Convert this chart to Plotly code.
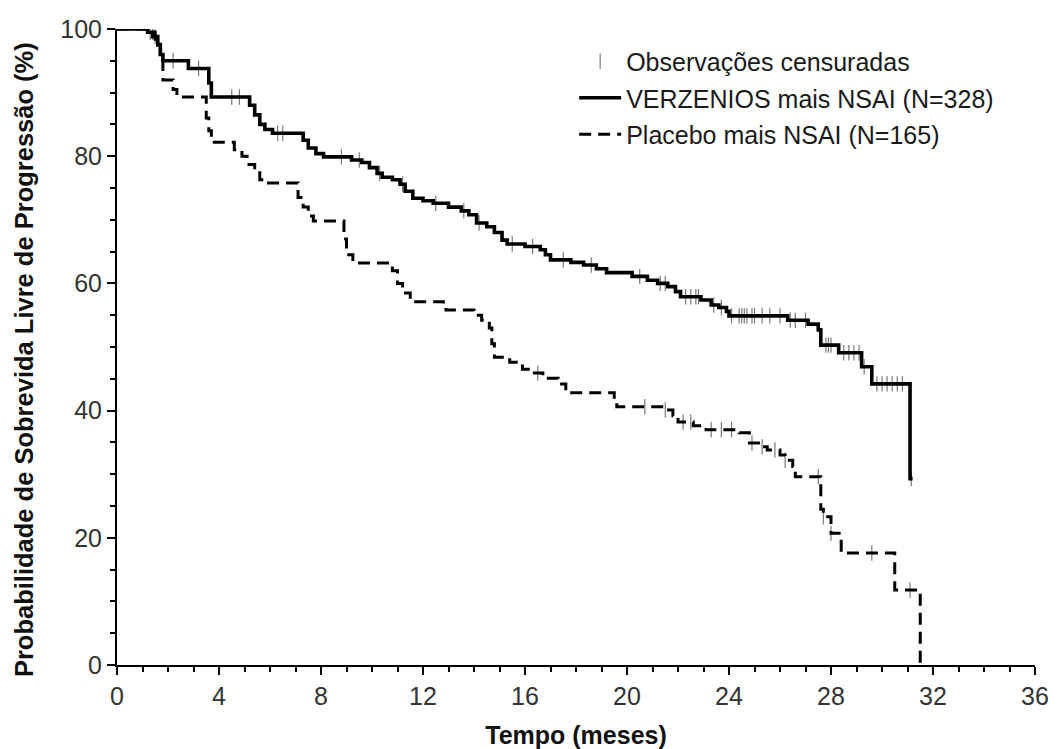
import plotly.graph_objects as go

# Kaplan-Meier steps (months, % free of progression)
verz_time = [0, 1.2, 1.4, 1.6, 1.7, 1.8, 2.8, 3.6, 3.7, 5.2, 5.4, 5.6, 5.8, 6.1,
             7.3, 7.5, 7.8, 8.1, 9.2, 9.6, 9.9, 10.2, 10.4, 10.8, 11.1, 11.3, 11.6,
             12.0, 12.4, 13.0, 13.5, 13.8, 14.1, 14.5, 14.8, 15.1, 15.3, 16.0, 16.6,
             16.8, 17.0, 17.8, 18.3, 18.8, 19.2, 20.2, 20.8, 21.2, 21.6, 21.9, 22.1,
             22.9, 23.3, 23.6, 23.9, 24.0, 26.3, 27.1, 27.5, 27.6, 28.3, 29.2, 29.6,
             31.1, 31.2]
verz_surv = [100, 99.5, 98.8, 97.5, 96.0, 95.0, 93.8, 91.5, 89.3, 88.0, 86.5, 85.0,
             84.2, 83.6, 82.5, 81.3, 80.4, 79.9, 79.4, 79.0, 78.2, 77.3, 76.7, 76.3,
             75.6, 74.5, 73.4, 73.0, 72.6, 72.0, 71.4, 70.8, 69.5, 68.9, 68.0, 66.8,
             66.2, 65.8, 65.3, 64.5, 63.7, 63.3, 62.9, 62.3, 61.7, 61.1, 60.5, 60.0,
             59.5, 58.7, 57.9, 57.4, 56.6, 56.2, 55.6, 54.9, 54.2, 53.6, 52.7, 50.3,
             49.1, 46.9, 44.2, 29.3, 29.3]

plac_time = [0, 1.2, 1.5, 1.7, 1.8, 2.2, 2.35, 3.5, 3.6, 3.7, 4.6, 4.9, 5.1, 5.4,
             5.6, 5.8, 7.1, 7.3, 7.5, 7.7, 8.9, 9.0, 9.25, 10.8, 11.0, 11.2, 11.5,
             12.8, 12.9, 14.0, 14.3, 14.6, 14.7, 14.8, 15.4, 15.9, 16.2, 16.7, 17.3,
             17.6, 19.5, 19.6, 21.5, 21.8, 22.0, 22.6, 23.1, 24.4, 24.8, 25.3, 25.5,
             26.0, 26.2, 26.5, 26.6, 27.6, 27.7, 28.0, 28.4, 30.5, 31.5]
plac_surv = [100, 99.5, 98.0, 95.0, 92.0, 90.5, 89.3, 86.0, 84.0, 82.2, 81.0, 80.0,
             78.7, 77.4, 76.3, 75.8, 73.5, 72.0, 70.6, 69.8, 67.0, 64.5, 63.2, 62.0,
             60.0, 58.5, 57.1, 56.5, 55.8, 55.0, 54.2, 53.0, 50.5, 48.4, 47.6, 46.5,
             45.9, 45.1, 44.2, 42.8, 41.5, 40.6, 40.1, 39.2, 38.2, 37.6, 37.0, 36.5,
             34.9, 34.3, 33.8, 33.0, 32.2, 31.2, 29.6, 24.5, 23.3, 20.7, 17.6, 11.8, 0]

# censored observations (months)
verz_cens = [1.3, 1.5, 2.2, 3.2, 4.5, 4.8, 6.3, 6.5, 8.8, 9.5, 10.3, 11.2, 12.5,
             13.6, 14.2, 15.5, 16.3, 17.5, 18.6, 20.5, 21.3, 21.5, 22.3, 22.5, 22.7,
             22.8, 23.4, 23.7, 24.1, 24.4, 24.5, 24.6, 24.7, 24.9, 25.0, 25.3, 25.6,
             26.0, 26.4, 26.6, 27.0, 27.8, 27.9, 28.0, 28.5, 28.7, 28.9, 29.1, 29.3,
             29.8, 30.0, 30.2, 30.4, 30.6, 30.8, 31.15]
plac_cens = [1.4, 16.5, 20.7, 21.5, 22.2, 22.5, 23.3, 23.7, 24.1, 24.9, 25.3, 25.8,
             26.2, 27.5, 27.7, 28.0, 29.6, 31.1]

x_ticks = [0, 4, 8, 12, 16, 20, 24, 28, 32, 36]
y_ticks = [0, 20, 40, 60, 80, 100]


def step_value(times, surv, t):
    value = surv[0]
    for ti, si in zip(times, surv):
        if ti <= t:
            value = si
    return value


cens_marker = dict(symbol="line-ns", size=11, line=dict(width=1.2, color="#7a7a7a"))

fig = go.Figure()

fig.add_trace(go.Scatter(
    x=verz_cens, y=[step_value(verz_time, verz_surv, t) for t in verz_cens],
    mode="markers", name="Observações censuradas", legendgroup="a",
    marker=cens_marker
))
fig.add_trace(go.Scatter(
    x=plac_cens, y=[step_value(plac_time, plac_surv, t) for t in plac_cens],
    mode="markers", showlegend=False, legendgroup="a",
    marker=cens_marker
))
fig.add_trace(go.Scatter(
    x=verz_time, y=verz_surv, mode="lines", line_shape="hv",
    name="VERZENIOS mais NSAI (N=328)", legendgroup="b",
    line=dict(color="black", width=3.6)
))
fig.add_trace(go.Scatter(
    x=plac_time, y=plac_surv, mode="lines", line_shape="hv",
    name="Placebo mais NSAI (N=165)", legendgroup="c",
    line=dict(color="black", width=3, dash="12px,7px")
))

# page body has an 8px margin, so the figure is 8px smaller than the window
fig.update_layout(
    width=1051, height=741,
    margin=dict(l=109, r=24, t=21, b=84, autoexpand=False),
    plot_bgcolor="white",
    paper_bgcolor="white",
    font=dict(family="Liberation Sans, Arial", color="#222222"),
    legend=dict(
        x=0.498, y=0.985, xanchor="left", yanchor="top",
        font=dict(size=25, color="#1a1a1a"),
        itemwidth=42, tracegroupgap=1,
        bgcolor="rgba(0,0,0,0)"
    ),
    xaxis=dict(
        range=[0, 36], tickvals=x_ticks,
        showline=True, linecolor="black", linewidth=2,
        ticks="outside", ticklen=8, tickwidth=2, tickcolor="black",
        minor=dict(dtick=1, ticks="outside", ticklen=5, tickwidth=1.5, tickcolor="black"),
        showgrid=False, zeroline=False,
        tickfont=dict(size=25, color="#333333"),
        title=dict(text="<b>Tempo (meses)</b>", font=dict(size=25, color="#111111"), standoff=20)
    ),
    yaxis=dict(
        range=[0, 100], tickvals=y_ticks,
        showline=True, linecolor="black", linewidth=2,
        ticks="outside", ticklen=8, tickwidth=2, tickcolor="black",
        minor=dict(dtick=5, ticks="outside", ticklen=5, tickwidth=1.5, tickcolor="black"),
        showgrid=False, zeroline=False,
        tickfont=dict(size=25, color="#333333")
    ),
    annotations=[dict(
        text="<b>Probabilidade de Sobrevida Livre de Progressão (%)</b>",
        xref="paper", yref="paper", x=-0.102, y=0.48,
        xanchor="center", yanchor="middle", textangle=-90, showarrow=False,
        font=dict(size=25.5, color="#111111")
    )]
)

fig.write_html("out.html")
